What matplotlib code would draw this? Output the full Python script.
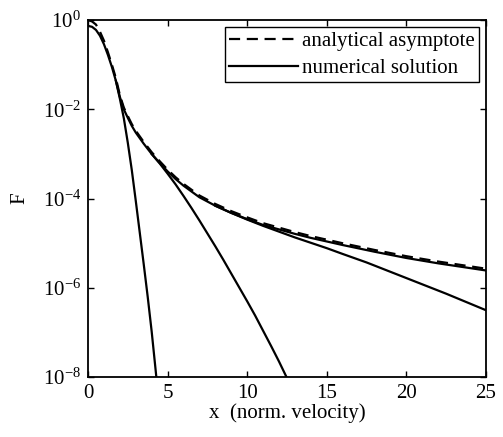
# Plot of distribution function tails: analytical asymptote vs numerical solutions.

# Import necessary third-party libraries.
import numpy as np
import matplotlib as mpl
mpl.use("Agg")
import matplotlib.pyplot as plt

mpl.rcParams["font.family"] = "serif"
mpl.rcParams["font.serif"] = ["Liberation Serif", "DejaVu Serif"]
mpl.rcParams["mathtext.fontset"] = "stix"

# Data (x, log10 F).
asym_x = [0.0, 0.25, 0.5, 0.75, 1.0, 1.25, 1.5, 1.75, 2.0, 2.25, 2.5, 2.75,
          3.0, 3.5, 4.0, 4.5, 5.0, 5.5, 6.0, 7.0, 8.0, 9.0, 10.0, 11.0, 12.0,
          13.0, 14.0, 15.0, 16.0, 18.0, 20.0, 22.0, 25.0]
asym_logF = [0.0, -0.03, -0.1, -0.26, -0.46, -0.72, -1.0, -1.3, -1.68, -1.96,
             -2.15, -2.33, -2.48, -2.73, -2.96, -3.16, -3.35, -3.52, -3.67,
             -3.93, -4.12, -4.28, -4.42, -4.55, -4.65, -4.75, -4.84, -4.92,
             -5.0, -5.15, -5.29, -5.41, -5.57]

main_x = [0.0, 0.25, 0.5, 0.75, 1.0, 1.25, 1.5, 1.75, 2.0, 2.25, 2.5, 2.75,
          3.0, 3.5, 4.0, 4.5, 5.0, 5.5, 6.0, 7.0, 8.0, 9.0, 10.0, 11.0, 12.0,
          13.0, 14.0, 15.0, 16.0, 18.0, 20.0, 22.0, 25.0]
main_logF = [-0.13, -0.15, -0.22, -0.35, -0.54, -0.78, -1.05, -1.36, -1.72,
             -2.0, -2.19, -2.37, -2.52, -2.77, -3.0, -3.2, -3.39, -3.56,
             -3.71, -3.97, -4.16, -4.32, -4.46, -4.59, -4.69, -4.79, -4.88,
             -4.96, -5.04, -5.19, -5.33, -5.45, -5.61]

tail1_x = [8.0, 9.0, 10.0, 11.0, 12.0, 13.0, 14.0, 15.0, 16.0, 17.5, 20.0,
           22.5, 25.0]
tail1_logF = [-4.16, -4.32, -4.47, -4.61, -4.74, -4.87, -4.99, -5.11, -5.24,
              -5.43, -5.78, -6.13, -6.5]

tail2_x = [4.0, 4.5, 5.0, 5.5, 6.0, 6.5, 7.0, 7.5, 8.0, 8.5, 9.0, 9.5, 10.0,
           10.5, 11.0, 11.5, 12.0, 12.5]
tail2_logF = [-3.0, -3.21, -3.44, -3.68, -3.94, -4.21, -4.49, -4.78, -5.07,
              -5.37, -5.68, -5.99, -6.3, -6.62, -6.96, -7.3, -7.65, -8.02]

tail3_x = [1.75, 2.0, 2.25, 2.5, 2.75, 3.0, 3.25, 3.5, 3.75, 4.0, 4.25, 4.35]
tail3_logF = [-1.36, -1.76, -2.2, -2.75, -3.36, -4.05, -4.76, -5.47, -6.2,
              -6.98, -7.85, -8.2]

# Plotting canvas.
fig = plt.figure(figsize=(5.03, 4.37), dpi=100)
ax = fig.add_axes([0.175, 0.137, 0.791, 0.817])

ax.semilogy(asym_x, 10.0**np.array(asym_logF), color="black", linestyle="--",
            linewidth=1.6, dashes=(5, 3), label="analytical asymptote")
ax.semilogy(main_x, 10.0**np.array(main_logF), color="black", linestyle="-",
            linewidth=1.6, label="numerical solution")
for tx, ty in [(tail1_x, tail1_logF), (tail2_x, tail2_logF), (tail3_x, tail3_logF)]:
  ax.semilogy(tx, 10.0**np.array(ty), color="black", linestyle="-", linewidth=1.6)

ax.set_xlim([0, 25])
ax.set_ylim([1e-8, 1e0])
ax.set_xticks([0, 5, 10, 15, 20, 25])
ax.set_yticks([1e-8, 1e-6, 1e-4, 1e-2, 1e0])
ax.yaxis.set_minor_locator(mpl.ticker.NullLocator())
ax.tick_params(direction="in", top=True, right=True, labelsize=15, length=4,
               width=1.0, pad=5)
for spine in ax.spines.values():
  spine.set_linewidth(1.3)

ax.set_xlabel("x  (norm. velocity)", fontsize=15, labelpad=0)
ax.set_ylabel("F", fontsize=15, labelpad=10)

leg = ax.legend(loc="upper right", fontsize=15, frameon=True, fancybox=False,
                edgecolor="black", framealpha=1.0, borderpad=0.2,
                labelspacing=0.35, handlelength=3.3, handletextpad=0.2,
                borderaxespad=0.35)
leg.get_frame().set_linewidth(1.0)

plt.savefig("out.png", dpi=100)
